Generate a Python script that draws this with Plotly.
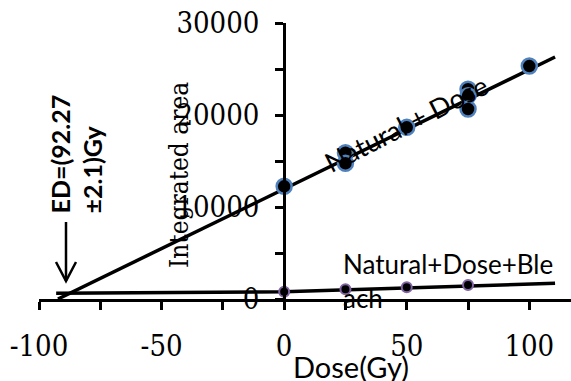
import plotly.graph_objects as go

# ---- data ----
nd_dose = [0, 25, 25, 50, 75, 75, 75, 100]
nd_area = [12250, 15900, 14750, 18660, 22800, 22100, 20650, 25320]

bl_dose = [0, 25, 50, 75]
bl_area = [790, 1050, 1270, 1520]

nd_fit_dose = [-92.27, 110.5]
nd_fit_area = [0, 26300]

bl_fit_dose = [-93, 0, 110.5]
bl_fit_area = [620, 790, 1700]

x_ticks = [-100, -50, 0, 50, 100]
y_ticks = [0, 10000, 20000, 30000]

W, H = 571, 381
ML, MR, MT, MB = 39, 0, 23, 82
XR = [-100, 117]
YR = [0, 30000]
PW = W - ML - MR
PH = H - MT - MB

def px_x(px):
    return (px - ML) / PW

def px_y(py):
    return (H - MB - py) / PH

sans = "Lato"
serif = "DejaVu Serif Condensed"

fig = go.Figure()
fig.add_trace(go.Scatter(x=nd_fit_dose, y=nd_fit_area, mode="lines",
                         line=dict(color="black", width=3.5), hoverinfo="skip"))
fig.add_trace(go.Scatter(x=bl_fit_dose, y=bl_fit_area, mode="lines",
                         line=dict(color="black", width=3.5), hoverinfo="skip"))
fig.add_trace(go.Scatter(x=nd_dose, y=nd_area, mode="markers",
                         marker=dict(size=15, color="black",
                                     line=dict(color="#4F81BD", width=2.5))))
fig.add_trace(go.Scatter(x=bl_dose, y=bl_area, mode="markers",
                         marker=dict(size=10, color="black",
                                     line=dict(color="#8064A2", width=2))))

ypos = (0 - XR[0]) / (XR[1] - XR[0])

fig.update_layout(
    width=W, height=H,
    margin=dict(l=ML, r=MR, t=MT, b=MB, pad=0),
    paper_bgcolor="white", plot_bgcolor="white",
    showlegend=False,
    xaxis=dict(range=XR, showgrid=False, zeroline=False, showline=True,
               linecolor="black", linewidth=3, ticks="outside", ticklen=8,
               tickwidth=2.5, tickcolor="black", tickvals=x_ticks,
               ticktext=[str(v) for v in x_ticks],
               minor=dict(dtick=25, tick0=0, ticks="outside", ticklen=8,
                          tickwidth=2.5, tickcolor="black"),
               tickfont=dict(family=serif, size=29, color="black"),
               ticklabelstandoff=11),
    yaxis=dict(range=YR, showgrid=False, zeroline=False, showline=True,
               linecolor="black", linewidth=3, ticks="outside", ticklen=8,
               tickwidth=2.5, tickcolor="black", tickvals=y_ticks,
               ticktext=[str(v) for v in y_ticks],
               minor=dict(dtick=5000, tick0=0, ticks="outside", ticklen=8,
                          tickwidth=2.5, tickcolor="black"),
               tickfont=dict(family=serif, size=29, color="black"),
               anchor="free", position=ypos, ticklabelstandoff=10),
)

ann = []
# y-axis title
ann.append(dict(x=px_x(179), y=px_y(175), xref="paper", yref="paper",
                text="Integrated area", showarrow=False, textangle=-90,
                font=dict(family=serif, size=26, color="black"),
                xanchor="center", yanchor="middle"))
# x-axis title
ann.append(dict(x=px_x(351), y=px_y(366), xref="paper", yref="paper",
                text="Dose(Gy)", showarrow=False,
                font=dict(family=sans, size=29, color="black"),
                xanchor="center", yanchor="middle"))
# series labels
ann.append(dict(x=px_x(406), y=px_y(124), xref="paper", yref="paper",
                text="Natural + Dose", showarrow=False, textangle=-27,
                font=dict(family=sans, size=27, color="black"),
                xanchor="center", yanchor="middle"))
ann.append(dict(x=px_x(341), y=px_y(281), xref="paper", yref="paper",
                text="Natural+Dose+Ble<br>ach", showarrow=False, align="left",
                font=dict(family=sans, size=26, color="black"),
                xanchor="left", yanchor="middle"))
# ED label
ann.append(dict(x=px_x(76), y=px_y(216), xref="paper", yref="paper",
                text="<b>ED=(92.27<br>±2.1)Gy</b>", showarrow=False,
                textangle=-90, align="left",
                font=dict(family=sans, size=25, color="black"),
                xanchor="center", yanchor="bottom"))
fig.update_layout(annotations=ann)

# arrow
shapes = [
    dict(type="line", xref="paper", yref="paper",
         x0=px_x(66), x1=px_x(66), y0=px_y(222), y1=px_y(281),
         line=dict(color="black", width=2.5)),
    dict(type="path", xref="paper", yref="paper",
         path=f"M {px_x(56)},{px_y(262)} L {px_x(66)},{px_y(281)} L {px_x(76)},{px_y(262)}",
         line=dict(color="black", width=2.5)),
]
fig.update_layout(shapes=shapes)

fig.write_html("out.html")
